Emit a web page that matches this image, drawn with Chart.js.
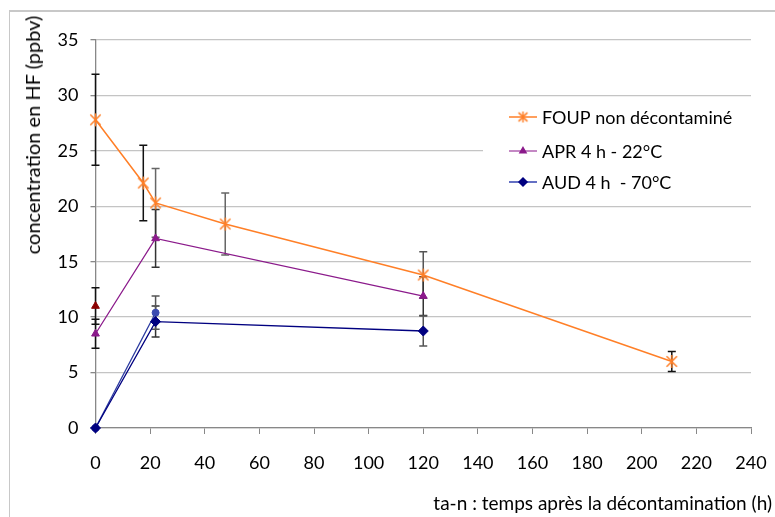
<!DOCTYPE html>
<html>
<head>
<meta charset="utf-8">
<script src="https://cdn.jsdelivr.net/npm/chart.js@4.4.1/dist/chart.umd.min.js"></script>
<style>
  html, body { margin: 0; padding: 0; background: #fff; overflow: hidden; }
  #wrap { position: relative; width: 775px; height: 517px; }
  #frame { position: absolute; left: 9px; top: 10px; width: 800px; height: 600px; border: 1px solid #c8c8c8; border-top-width: 2px; box-sizing: border-box; }
  canvas { position: absolute; left: 0; top: 0; }
  .ttl { position: absolute; font-family: Lato, "Open Sans", sans-serif; color: #000; white-space: nowrap; line-height: 1; }
  #ytitle { font-size: 20px; left: 32px; top: 135px; transform: translate(-50%, -50%) rotate(-90deg); }
  #xtitle { font-size: 19px; right: 3px; top: 493px; }
</style>
</head>
<body>
<div id="wrap">
  <div id="frame"></div>
  <canvas id="c" width="775" height="517"></canvas>
  <div class="ttl" id="ytitle">concentration en HF (ppbv)</div>
  <div class="ttl" id="xtitle">ta-n : temps après la décontamination (h)</div>
</div>
<script>
// ---- data ----
const xTicks = [0, 20, 40, 60, 80, 100, 120, 140, 160, 180, 200, 220, 240];
const yTicks = [0, 5, 10, 15, 20, 25, 30, 35];

const foupLabel = "FOUP non décontaminé";
const foupX = [0, 17.5, 22, 47.5, 120, 211];
const foupY = [27.8, 22.1, 20.3, 18.4, 13.8, 6.0];
const foupErr = [4.1, 3.4, 3.1, 2.8, 2.1, 0.9];

const aprLabel = "APR 4 h - 22°C";
const aprX = [0, 22, 120];
const aprY = [8.5, 17.1, 11.9];
const aprErr = [1.3, 2.6, 1.75];

const aprBisX = [0];
const aprBisY = [11.0];
const aprBisErr = [1.65];

const audLabel = "AUD 4 h  - 70°C";
const audX = [0, 22, 120];
const audY = [0, 9.6, 8.75];
const audErr = [0, 1.4, 1.35];

const audBisX = [0, 22];
const audBisY = [0, 10.4];
const audBisErr = [0, 1.5];

const pts = (xs, ys) => xs.map((x, i) => ({ x: x, y: ys[i] }));

// asterisk marker (X with vertical bar)
function makeAsterisk(size, color) {
  const c = document.createElement('canvas');
  c.width = size; c.height = size;
  const g = c.getContext('2d');
  const h = size / 2, r = h - 1;
  g.strokeStyle = color; g.lineWidth = 1.5;
  g.beginPath();
  g.moveTo(h - r * 0.8, h - r * 0.8); g.lineTo(h + r * 0.8, h + r * 0.8);
  g.moveTo(h + r * 0.8, h - r * 0.8); g.lineTo(h - r * 0.8, h + r * 0.8);
  g.moveTo(h, h - r); g.lineTo(h, h + r);
  g.stroke();
  return c;
}
const starBig = makeAsterisk(15, '#FF7F27');
const starSmall = makeAsterisk(13, '#FF7F27');

// ---- plugins ----
const errorBars = {
  id: 'errorBars',
  beforeDatasetsDraw(chart) {
    const ctx = chart.ctx, xs = chart.scales.x, ys = chart.scales.y;
    ctx.save();
    chart.data.datasets.forEach(ds => {
      if (!ds.errors) return;
      ds.data.forEach((p, i) => {
        const e = ds.errors[i];
        if (!e) return;
        const px = xs.getPixelForValue(p.x);
        const top = ys.getPixelForValue(p.y + e);
        const bot = ys.getPixelForValue(Math.max(0, p.y - e));
        ctx.strokeStyle = (ds.errorColors && ds.errorColors[i]) || '#333';
        ctx.lineWidth = 1.5;
        ctx.beginPath();
        ctx.moveTo(px, top); ctx.lineTo(px, bot);
        ctx.moveTo(px - 4, top); ctx.lineTo(px + 4, top);
        ctx.moveTo(px - 4, bot); ctx.lineTo(px + 4, bot);
        ctx.stroke();
      });
    });
    ctx.restore();
  }
};

const legendBox = {
  id: 'legendBox',
  beforeDatasetsDraw(chart) {
    const ctx = chart.ctx;
    ctx.save();
    ctx.fillStyle = '#fff';
    ctx.fillRect(483, 100, 268, 104);
    ctx.restore();
  },
  afterDraw(chart) {
    const ctx = chart.ctx;
    const rows = [117, 151, 182];
    ctx.save();
    chart.data.datasets.filter(d => d.inLegend).forEach((d, i) => {
      const y = rows[i];
      ctx.strokeStyle = d.legendLine || d.borderColor;
      ctx.lineWidth = 1.5;
      ctx.beginPath(); ctx.moveTo(509, y); ctx.lineTo(537, y); ctx.stroke();
      ctx.fillStyle = d.pointBackgroundColor;
      ctx.strokeStyle = d.pointBorderColor;
      Chart.helpers.drawPoint(ctx, { pointStyle: d.legendStyle || d.pointStyle, radius: d.legendRadius, rotation: 0, borderWidth: d.pointBorderWidth }, 523, y);
      ctx.fillStyle = '#000';
      ctx.font = '18px Lato, "Open Sans", sans-serif';
      ctx.textBaseline = 'middle';
      ctx.textAlign = 'left';
      ctx.fillText(d.label, 542, y + 1);
    });
    ctx.restore();
  }
};

const tickFont = { family: 'Lato, "Open Sans", sans-serif', size: 18 };

new Chart(document.getElementById('c'), {
  type: 'scatter',
  data: {
    datasets: [
      {
        label: foupLabel, inLegend: true, data: pts(foupX, foupY), errors: foupErr,
        errorColors: ['#111', '#111', '#666', '#666', '#555', '#111'],
        showLine: true, borderColor: '#FF7F27', borderWidth: 1.5,
        pointStyle: starBig, legendStyle: starSmall, pointRadius: 7, legendRadius: 6, pointBorderWidth: 1.5,
        pointBorderColor: '#FF7F27', pointBackgroundColor: '#FF7F27', order: 1, clip: false
      },
      {
        label: aprLabel, inLegend: true, data: pts(aprX, aprY), errors: aprErr,
        errorColors: ['#111', '#333', '#333'], legendLine: '#B060B0',
        showLine: true, borderColor: '#8B1A8B', borderWidth: 1.3,
        pointStyle: 'triangle', pointRadius: 4.5, legendRadius: 3.5, pointBorderWidth: 1,
        pointBorderColor: '#8B1A8B', pointBackgroundColor: '#8B1A8B', order: 2, clip: false
      },
      {
        label: 'APR bis', inLegend: false, data: pts(aprBisX, aprBisY), errors: aprBisErr,
        errorColors: ['#111'],
        showLine: false, borderColor: '#8B0000', borderWidth: 1,
        pointStyle: 'triangle', pointRadius: 4.5, pointBorderWidth: 1,
        pointBorderColor: '#8B0000', pointBackgroundColor: '#8B0000', order: 3, clip: false
      },
      {
        label: audLabel, inLegend: true, data: pts(audX, audY), errors: audErr,
        errorColors: ['#111', '#333', '#555'], legendLine: '#3040B0',
        showLine: true, borderColor: '#000080', borderWidth: 1.3,
        pointStyle: 'rectRot', pointRadius: 5, legendRadius: 4, pointBorderWidth: 1,
        pointBorderColor: '#000080', pointBackgroundColor: '#000080', order: 4, clip: false
      },
      {
        label: 'AUD bis', inLegend: false, data: pts(audBisX, audBisY), errors: audBisErr,
        errorColors: ['#111', '#555'],
        showLine: true, borderColor: '#2A3AA0', borderWidth: 1.3,
        pointStyle: 'circle', pointRadius: 3.5, pointBorderWidth: 1,
        pointBorderColor: '#3A4AB0', pointBackgroundColor: '#3A4AB0', order: 5, clip: false
      }
    ]
  },
  options: {
    responsive: false,
    animation: false,
    events: [],
    layout: { padding: { left: 0, top: 40, right: 24, bottom: 0 } },
    plugins: { legend: { display: false }, tooltip: { enabled: false } },
    scales: {
      x: {
        type: 'linear', min: 0, max: 240,
        afterBuildTicks: s => { s.ticks = xTicks.map(v => ({ value: v })); },
        afterFit: s => { s.height = 89; s.paddingLeft = 0; s.paddingRight = 0; },
        ticks: { font: tickFont, color: '#000', padding: 18, maxRotation: 0 },
        grid: { drawOnChartArea: false, drawTicks: true, tickLength: 6, tickColor: '#888', color: '#888' },
        border: { color: '#888', width: 1.3 }
      },
      y: {
        type: 'linear', min: 0, max: 35,
        afterBuildTicks: s => { s.ticks = yTicks.map(v => ({ value: v })); },
        afterFit: s => { s.width = 95.5; s.paddingTop = 0; s.paddingBottom = 0; },
        ticks: { font: tickFont, color: '#000', padding: 12 },
        grid: { drawOnChartArea: true, color: '#c4c4c4', lineWidth: 1.3, drawTicks: true, tickLength: 5, tickColor: '#888' },
        border: { color: '#888', width: 1.3 }
      }
    }
  },
  plugins: [errorBars, legendBox]
});
</script>
</body>
</html>
